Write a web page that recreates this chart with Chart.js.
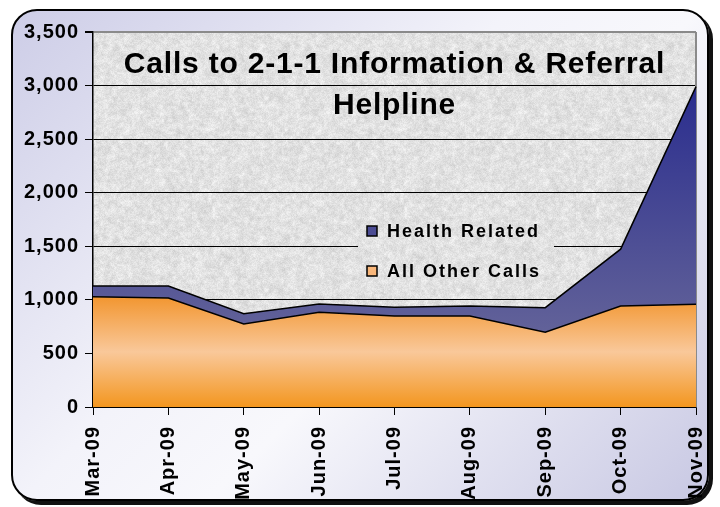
<!DOCTYPE html>
<html>
<head>
<meta charset="utf-8">
<script src="https://cdn.jsdelivr.net/npm/chart.js@4.4.1/dist/chart.umd.min.js"></script>
<style>
  html, body { margin: 0; padding: 0; background: #fff; }
  #wrap { position: relative; width: 720px; height: 507px; }
  #frame {
    position: absolute; left: 11px; top: 9px; width: 694px; height: 488px;
    border: 2px solid #000; border-radius: 26px; box-shadow: 4px 4px 0 #111;
    background: linear-gradient(135deg, #cdcde7 0%, #f3f3fa 42%, #f8f8fc 58%, #c8c8e3 100%);
  }
  canvas { position: absolute; left: 0; top: 0; }
</style>
</head>
<body>
<div id="wrap">
  <div id="frame"></div>
  <canvas id="chart" width="720" height="507"></canvas>
</div>
<script>
const months = ["Mar-09", "Apr-09", "May-09", "Jun-09", "Jul-09", "Aug-09", "Sep-09", "Oct-09", "Nov-09"]
const otherCalls = [1030, 1017, 775, 884, 849, 849, 697, 943, 960]
const healthRelated = [100, 112, 95, 77, 81, 94, 230, 530, 2030]
const yMax = 3500
const yStep = 500
const titleLines = ["Calls to 2-1-1 Information & Referral", "Helpline"]

const FONT = "'Liberation Sans', Arial, sans-serif"

// grey granite texture for the plot area (deterministic hash noise, two scales)
function hashNoise(w, h, seed, lo, hi) {
  const c = document.createElement("canvas")
  c.width = w
  c.height = h
  const cx = c.getContext("2d")
  const img = cx.createImageData(w, h)
  for (let y = 0; y < h; y++) {
    for (let x = 0; x < w; x++) {
      const s = Math.sin(x * 12.9898 + y * 78.233 + seed) * 43758.5453
      const v = Math.round(lo + (s - Math.floor(s)) * (hi - lo))
      const i = (y * w + x) * 4
      img.data[i] = img.data[i + 1] = img.data[i + 2] = v
      img.data[i + 3] = 255
    }
  }
  cx.putImageData(img, 0, 0)
  return c
}

function makeGranite() {
  const size = 192
  const out = document.createElement("canvas")
  out.width = out.height = size
  const octx = out.getContext("2d")
  octx.imageSmoothingEnabled = true
  octx.drawImage(hashNoise(48, 48, 1.7, 205, 250), 0, 0, size, size)
  octx.globalAlpha = 0.45
  octx.drawImage(hashNoise(96, 96, 5.3, 200, 255), 0, 0, size, size)
  octx.globalAlpha = 0.25
  octx.drawImage(hashNoise(size, size, 9.1, 190, 255), 0, 0)
  return out
}
const granite = makeGranite()

const spacing = chart => { chart.ctx.letterSpacing = "1px" }

const decor = {
  id: "decor",
  beforeLayout: spacing,
  beforeDraw(chart) {
    spacing(chart)
    const { ctx, chartArea: a } = chart
    ctx.save()
    ctx.fillStyle = ctx.createPattern(granite, "repeat")
    ctx.fillRect(a.left, a.top, a.right - a.left, a.bottom - a.top)
    ctx.restore()
  },
  beforeDatasetsDraw(chart) {
    const { ctx, chartArea: a } = chart
    ctx.save()
    // legend box hides the grid behind it
    ctx.fillStyle = ctx.createPattern(granite, "repeat")
    ctx.fillRect(a.left + 265, a.top + 179, 196, 78)
    ctx.strokeStyle = "#8a8a8a"
    ctx.lineWidth = 2
    ctx.beginPath()
    ctx.moveTo(a.right, a.top)
    ctx.lineTo(a.right, a.bottom)
    ctx.stroke()
    ctx.restore()
  },
  afterDatasetsDraw(chart) {
    const { ctx, chartArea: a } = chart
    ctx.save()
    ctx.fillStyle = "#000"
    ctx.textAlign = "center"
    ctx.textBaseline = "alphabetic"
    ctx.letterSpacing = "0.8px"
    ctx.font = `bold 30px ${FONT}`
    const cx = (a.left + a.right) / 2
    ctx.fillText(titleLines[0], cx, a.top + 41)
    ctx.fillText(titleLines[1], cx, a.top + 82)

    // legend, top entry is the upper series
    const items = chart.data.datasets.slice().reverse()
    ctx.textAlign = "left"
    ctx.letterSpacing = "2px"
    ctx.font = `bold 18px ${FONT}`
    items.forEach((ds, i) => {
      const y = a.top + 194 + i * 40
      ctx.fillStyle = ds.swatch
      ctx.fillRect(a.left + 274, y, 10, 10)
      ctx.strokeStyle = "#000"
      ctx.lineWidth = 1.5
      ctx.strokeRect(a.left + 274, y, 10, 10)
      ctx.fillStyle = "#000"
      ctx.fillText(ds.label, a.left + 294, y + 11)
    })
    ctx.restore()
  }
}

function orangeFill(context) {
  const { chart } = context
  if (!chart.chartArea) return "#f5a550"
  const y = chart.scales.y
  const g = chart.ctx.createLinearGradient(0, y.getPixelForValue(Math.max(...otherCalls)), 0, y.getPixelForValue(0))
  g.addColorStop(0, "#f29630")
  g.addColorStop(0.5, "#f9c89a")
  g.addColorStop(1, "#f3961f")
  return g
}

function blueFill(context) {
  const { chart } = context
  if (!chart.chartArea) return "#4a4a96"
  const y = chart.scales.y
  const totals = otherCalls.map((v, i) => v + healthRelated[i])
  const g = chart.ctx.createLinearGradient(0, y.getPixelForValue(Math.max(...totals)), 0, y.getPixelForValue(Math.min(...otherCalls)))
  g.addColorStop(0, "#2a2d8e")
  g.addColorStop(1, "#626299")
  return g
}

new Chart(document.getElementById("chart"), {
  type: "line",
  data: {
    labels: months,
    datasets: [
      {
        label: "All Other Calls",
        data: otherCalls,
        swatch: "#f8b67a",
        backgroundColor: orangeFill,
        borderColor: "#000",
        borderWidth: 1.5,
        fill: "origin",
        pointRadius: 0,
        tension: 0
      },
      {
        label: "Health Related",
        data: healthRelated,
        swatch: "#4b4c93",
        backgroundColor: blueFill,
        borderColor: "#000",
        borderWidth: 1.5,
        fill: "-1",
        pointRadius: 0,
        tension: 0
      }
    ]
  },
  options: {
    responsive: false,
    animation: false,
    layout: { padding: { left: 0, right: 24, top: 32, bottom: 0 } },
    plugins: {
      legend: { display: false },
      tooltip: { enabled: false }
    },
    scales: {
      x: {
        offset: false,
        afterFit: s => { s.height = 100; s.paddingLeft = 0; s.paddingRight = 0 },
        border: { color: "#000", width: 1.5 },
        grid: { drawOnChartArea: false, drawTicks: true, tickLength: 8, tickColor: "#000" },
        ticks: {
          autoSkip: false, minRotation: 90, maxRotation: 90, padding: 11,
          color: "#000", font: { family: FONT, size: 20, weight: "bold" }
        }
      },
      y: {
        stacked: true,
        min: 0,
        max: yMax,
        afterFit: s => { s.width = 93 },
        border: { color: "#000", width: 1.5 },
        grid: {
          color: c => c.tick && c.tick.value === yMax ? "#8a8a8a" : "#000",
          lineWidth: c => c.tick && c.tick.value === yMax ? 2 : 1,
          tickLength: 8,
          tickColor: "#000"
        },
        ticks: {
          stepSize: yStep, padding: 6,
          color: "#000", font: { family: FONT, size: 20, weight: "bold" }
        }
      }
    }
  },
  plugins: [decor]
})
</script>
</body>
</html>
